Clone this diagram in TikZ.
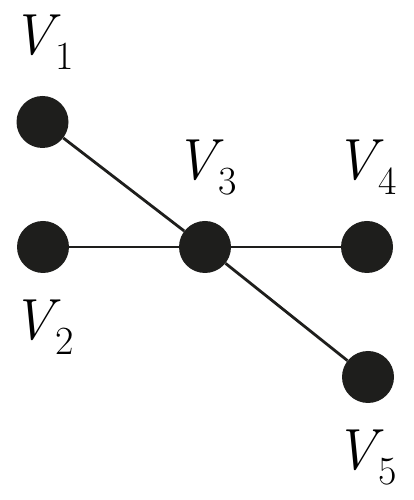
\documentclass[tikz,border=0pt]{standalone}
\usepackage{xcolor}
\usepackage{tikz}
\usepackage{amsmath,amssymb}
\usetikzlibrary{positioning, calc}
\definecolor{vertexblack}{HTML}{1E1E1C}
\newcommand{\vlabel}[1]{\textit{V}\kern-5pt\raisebox{-15pt}{\fontsize{40}{40}\selectfont #1}}

\begin{document}
\begin{tikzpicture}[x=1pt, y=1pt,
  vertex/.style={circle, fill=vertexblack, inner sep=0pt, minimum size=52pt},
  vname/.style={anchor=base west, inner sep=0pt, font=\fontsize{58}{60}\selectfont},
  edge/.style={draw=vertexblack, line width=2.8pt}]
  \useasboundingbox (0,0) rectangle (413,500);

  % Vertices
  \node[vertex] (v1) at (42.5,378) {};
  \node[vertex] (v2) at (43,253) {};
  \node[vertex] (v3) at (205,253) {};
  \node[vertex] (v4) at (367,253) {};
  \node[vertex] (v5) at (368,123) {};

  % Edges
  \draw[edge] (v1) -- (v3);
  \draw[edge] (v2) -- (v3);
  \draw[edge] (v3) -- (v4);
  \draw[edge] (v3) -- (v5);

  % Labels
  \node[vname] (l1) at (11,445) {\vlabel{1}};
  \node[vname] (l2) at (11,160) {\vlabel{2}};
  \node[vname] (l3) at (174,320) {\vlabel{3}};
  \node[vname] (l4) at (334,320) {\vlabel{4}};
  \node[vname] (l5) at (334,30) {\vlabel{5}};
\end{tikzpicture}
\end{document}
